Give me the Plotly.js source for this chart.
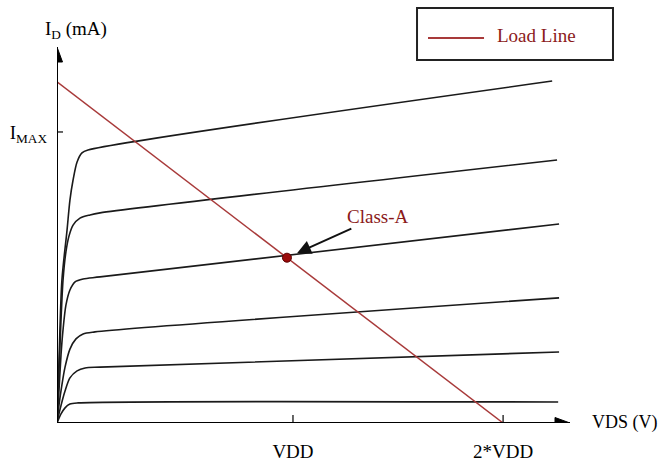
<!DOCTYPE html>
<html>
<head>
<meta charset="utf-8">
<script src="https://cdn.plot.ly/plotly-3.0.1.min.js"></script>
<style>html,body{margin:0;padding:0;background:#fff;}#chart{width:663px;height:465px;}</style>
</head>
<body>
<div id="chart"></div>
<script>
// ---- Data (arbitrary units: 2*VDD = 2, IMAX = 10) ----
const curve1X = [0, 0.009, 0.022, 0.045, 0.058, 0.072, 0.090, 0.112, 0.139, 2.220];
const curve1Y = [0, 2.16, 4.91, 6.63, 7.66, 8.35, 8.97, 9.28, 9.38, 11.75];
const curve2X = [0, 0.009, 0.018, 0.027, 0.040, 0.054, 0.072, 0.103, 0.148, 0.193, 2.242];
const curve2Y = [0, 1.82, 3.54, 4.91, 5.88, 6.43, 6.80, 7.04, 7.15, 7.22, 9.04];
const curve3X = [0, 0.009, 0.018, 0.027, 0.040, 0.058, 0.081, 0.117, 0.193, 2.251];
const curve3Y = [0, 1.13, 2.34, 3.20, 4.05, 4.57, 4.85, 4.95, 5.02, 6.84];
const curve4X = [0, 0.009, 0.022, 0.036, 0.058, 0.085, 0.117, 0.170, 2.251];
const curve4Y = [0, 0.62, 1.31, 1.92, 2.54, 2.89, 3.06, 3.13, 4.30];
const curve5X = [0, 0.013, 0.036, 0.058, 0.090, 0.126, 0.193, 2.251];
const curve5Y = [0, 0.45, 1.10, 1.55, 1.79, 1.89, 1.92, 2.44];
const curve6X = [0, 0.018, 0.036, 0.058, 0.094, 2.247];
const curve6Y = [0, 0.31, 0.52, 0.65, 0.69, 0.72];

const loadLineX = [0, 2];
const loadLineY = [11.72, 0];
const qPointX = [1.031];
const qPointY = [5.68];

const xTickVals = [1.058, 2];
const xTickText = ['VDD', '2*VDD'];
const yTickVals = [10];
const yTickText = ['I<sub>MAX</sub>'];

const xMax = 2.30;
const yMax = 12.92;

// ---- Styles ----
const FONT = '"Liberation Serif", "Times New Roman", serif';
const RED = '#a83a3a';
const DARKRED = '#8b1a1a';

const curves = [
  [curve1X, curve1Y], [curve2X, curve2Y], [curve3X, curve3Y],
  [curve4X, curve4Y], [curve5X, curve5Y], [curve6X, curve6Y]
];

const traces = curves.map(c => ({
  x: c[0], y: c[1], type: 'scatter', mode: 'lines',
  line: {color: '#1a1a1a', width: 1.6, shape: 'spline', smoothing: 0.8},
  showlegend: false, hoverinfo: 'skip'
}));

traces.push({
  x: loadLineX, y: loadLineY, type: 'scatter', mode: 'lines', name: 'Load Line',
  line: {color: RED, width: 1.5}, showlegend: false
});
traces.push({
  x: qPointX, y: qPointY, type: 'scatter', mode: 'markers', name: 'Class-A',
  marker: {color: '#9b0a0a', size: 9, line: {color: '#5a0000', width: 1}},
  showlegend: false
});

const shapes = [];
// axes lines
shapes.push({type: 'line', xref: 'x', yref: 'y', x0: 0, x1: xMax, y0: 0, y1: 0,
  line: {color: '#000', width: 2}});
shapes.push({type: 'line', xref: 'x', yref: 'y', x0: 0, x1: 0, y0: 0, y1: yMax,
  line: {color: '#000', width: 2}});
// arrow heads
shapes.push({type: 'path', xref: 'x', yref: 'y', xsizemode: 'pixel', ysizemode: 'pixel',
  xanchor: xMax, yanchor: 0, path: 'M 0 0 L -15 5.5 L -15 -5.5 Z',
  fillcolor: '#000', line: {color: '#000', width: 1}});
shapes.push({type: 'path', xref: 'x', yref: 'y', xsizemode: 'pixel', ysizemode: 'pixel',
  xanchor: 0, yanchor: yMax, path: 'M 0 0 L -5.5 -15 L 5.5 -15 Z',
  fillcolor: '#000', line: {color: '#000', width: 1}});
// ticks crossing the axes
xTickVals.forEach(v => shapes.push({
  type: 'line', xref: 'x', x0: v, x1: v, yref: 'y', ysizemode: 'pixel', yanchor: 0,
  y0: -10, y1: 8, line: {color: '#000', width: 1.2}
}));
yTickVals.forEach(v => shapes.push({
  type: 'line', yref: 'y', y0: v, y1: v, xref: 'x', xsizemode: 'pixel', xanchor: 0,
  x0: -7, x1: 6, line: {color: '#000', width: 1.2}
}));
// legend-like box
shapes.push({type: 'rect', xref: 'paper', yref: 'paper', x0: 0.7018, x1: 1.0838, y0: 0.9654, y1: 1.1037,
  line: {color: '#222', width: 2}, fillcolor: 'rgba(0,0,0,0)'});
shapes.push({type: 'line', xref: 'paper', yref: 'paper', x0: 0.7232, x1: 0.8324, y0: 1.0239, y1: 1.0239,
  line: {color: RED, width: 2}});

const annotations = [
  {x: xMax, y: 0, xref: 'x', yref: 'y', xanchor: 'left', yanchor: 'middle', xshift: 20, yshift: 1,
   text: 'VDS (V)', showarrow: false, font: {family: FONT, size: 18, color: '#000'}},
  {x: 0, y: 1, xref: 'x', yref: 'paper', xanchor: 'left', yanchor: 'middle', xshift: -14, yshift: 17,
   text: 'I<sub>D</sub> (mA)', showarrow: false, font: {family: FONT, size: 19, color: '#000'}},
  {x: 0.8538, y: 1.0319, xref: 'paper', yref: 'paper', xanchor: 'left', yanchor: 'middle',
   text: 'Load Line', showarrow: false, font: {family: FONT, size: 19, color: DARKRED}},
  {x: qPointX[0], y: qPointY[0], xref: 'x', yref: 'y', ax: 91, ay: -41, text: 'Class-A',
   showarrow: true, arrowhead: 2, arrowsize: 1.4, arrowwidth: 2, arrowcolor: '#111', standoff: 11,
   font: {family: FONT, size: 19, color: DARKRED}}
];

const layout = {
  width: 663, height: 465,
  margin: {l: 57, r: 93, t: 47, b: 42, pad: 0},
  paper_bgcolor: '#fff', plot_bgcolor: '#fff',
  showlegend: false,
  xaxis: {range: [0, xMax], showgrid: false, zeroline: false, showline: false,
    tickvals: xTickVals, ticktext: xTickText, ticks: '', ticklabelstandoff: 15,
    tickfont: {family: FONT, size: 19, color: '#000'}, fixedrange: true},
  yaxis: {range: [0, yMax], showgrid: false, zeroline: false, showline: false,
    tickvals: yTickVals, ticktext: yTickText, ticks: '', ticklabelstandoff: 9,
    tickfont: {family: FONT, size: 19, color: '#000'}, fixedrange: true},
  shapes: shapes,
  annotations: annotations
};

Plotly.newPlot('chart', traces, layout, {displayModeBar: false, staticPlot: true});
</script>
</body>
</html>
